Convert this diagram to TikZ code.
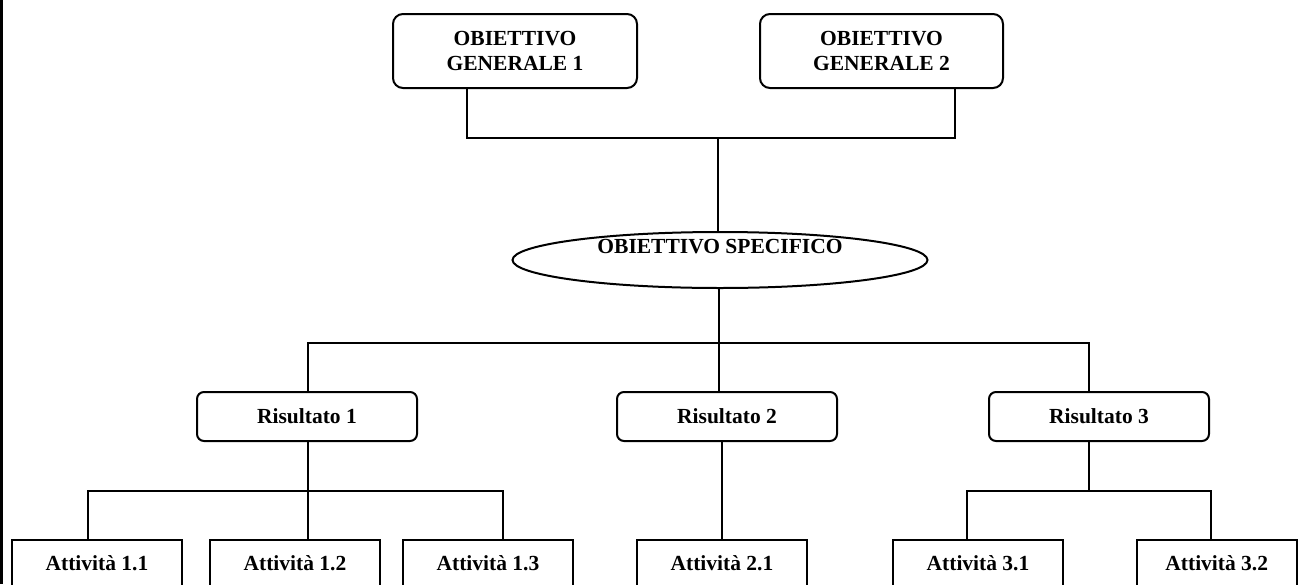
\documentclass[tikz,border=0pt]{standalone}
\usepackage{fontspec}
\setmainfont{Liberation Serif}
\usetikzlibrary{shapes.geometric}
\tikzset{
  base/.style={draw=black, line width=2pt, inner sep=0pt, align=center,
    font=\bfseries\fontsize{21.5}{25}\selectfont},
  ogbox/.style={base, rectangle, rounded corners=10pt, minimum width=244pt, minimum height=74pt},
  resbox/.style={base, rectangle, rounded corners=7pt, minimum width=220pt, minimum height=49pt},
  actbox/.style={base, rectangle, minimum width=170pt, minimum height=46pt},
  osell/.style={draw=black, line width=2pt, ellipse, inner sep=0pt, minimum width=415pt, minimum height=56pt},
  conn/.style={draw=black, line width=1.8pt},
  lbl/.style={inner sep=0pt, font=\bfseries\fontsize{21.5}{25}\selectfont}
}
\begin{document}
\begin{tikzpicture}[x=1pt, y=-1pt]
\useasboundingbox (0,0) rectangle (1298,584);
\clip (0,0) rectangle (1298,584);
\fill[black] (0,0) rectangle (3,584);

% top level
\node[ogbox] (og1) at (515,51) {OBIETTIVO\\GENERALE 1};
\node[ogbox, minimum width=243pt] (og2) at (881.5,51) {OBIETTIVO\\GENERALE 2};

% specific objective
\node[osell] (os) at (720,260) {};
\node[lbl] (ostext) at (720,247) {OBIETTIVO SPECIFICO};

% results
\node[resbox] (r1) at (307,416.5) {Risultato 1};
\node[resbox] (r2) at (727,416.5) {Risultato 2};
\node[resbox] (r3) at (1099,416.5) {Risultato 3};

% activities (cut at the bottom edge)
\node[actbox] (a11) at (97,563) {Attività 1.1};
\node[actbox] (a12) at (295,563) {Attività 1.2};
\node[actbox] (a13) at (488,563) {Attività 1.3};
\node[actbox] (a21) at (722,563) {Attività 2.1};
\node[actbox] (a31) at (978,563) {Attività 3.1};
\node[actbox, minimum width=159.5pt] (a32) at (1216.75,563) {Attività 3.2};

% junctions
\coordinate (j1) at (718,138);
\coordinate (j2) at (719,343);
\coordinate (j3) at (308,491);
\coordinate (j4) at (1089,491);

% connectors
\draw[conn] ([xshift=-48pt]og1.south) |- (j1) -| ([xshift=73.5pt]og2.south);
\draw[conn] (j1) -- (j1 |- os.north);
\draw[conn] (j2 |- os.south) -- (j2);
\draw[conn] (j2) -- (j2 |- r2.north);
\draw[conn] ([xshift=1pt]r1.north) |- (j2) -| ([xshift=-10pt]r3.north);

\draw[conn] (j3 |- r1.south) -- (j3 |- a12.north);
\draw[conn] ([xshift=-9pt]a11.north) |- (j3) -| ([xshift=15pt]a13.north);

\draw[conn] (a21.north |- r2.south) -- (a21.north);

\draw[conn] (j4 |- r3.south) -- (j4);
\draw[conn] ([xshift=-11pt]a31.north) |- (j4) -| ([xshift=-5.75pt]a32.north);
\end{tikzpicture}
\end{document}
